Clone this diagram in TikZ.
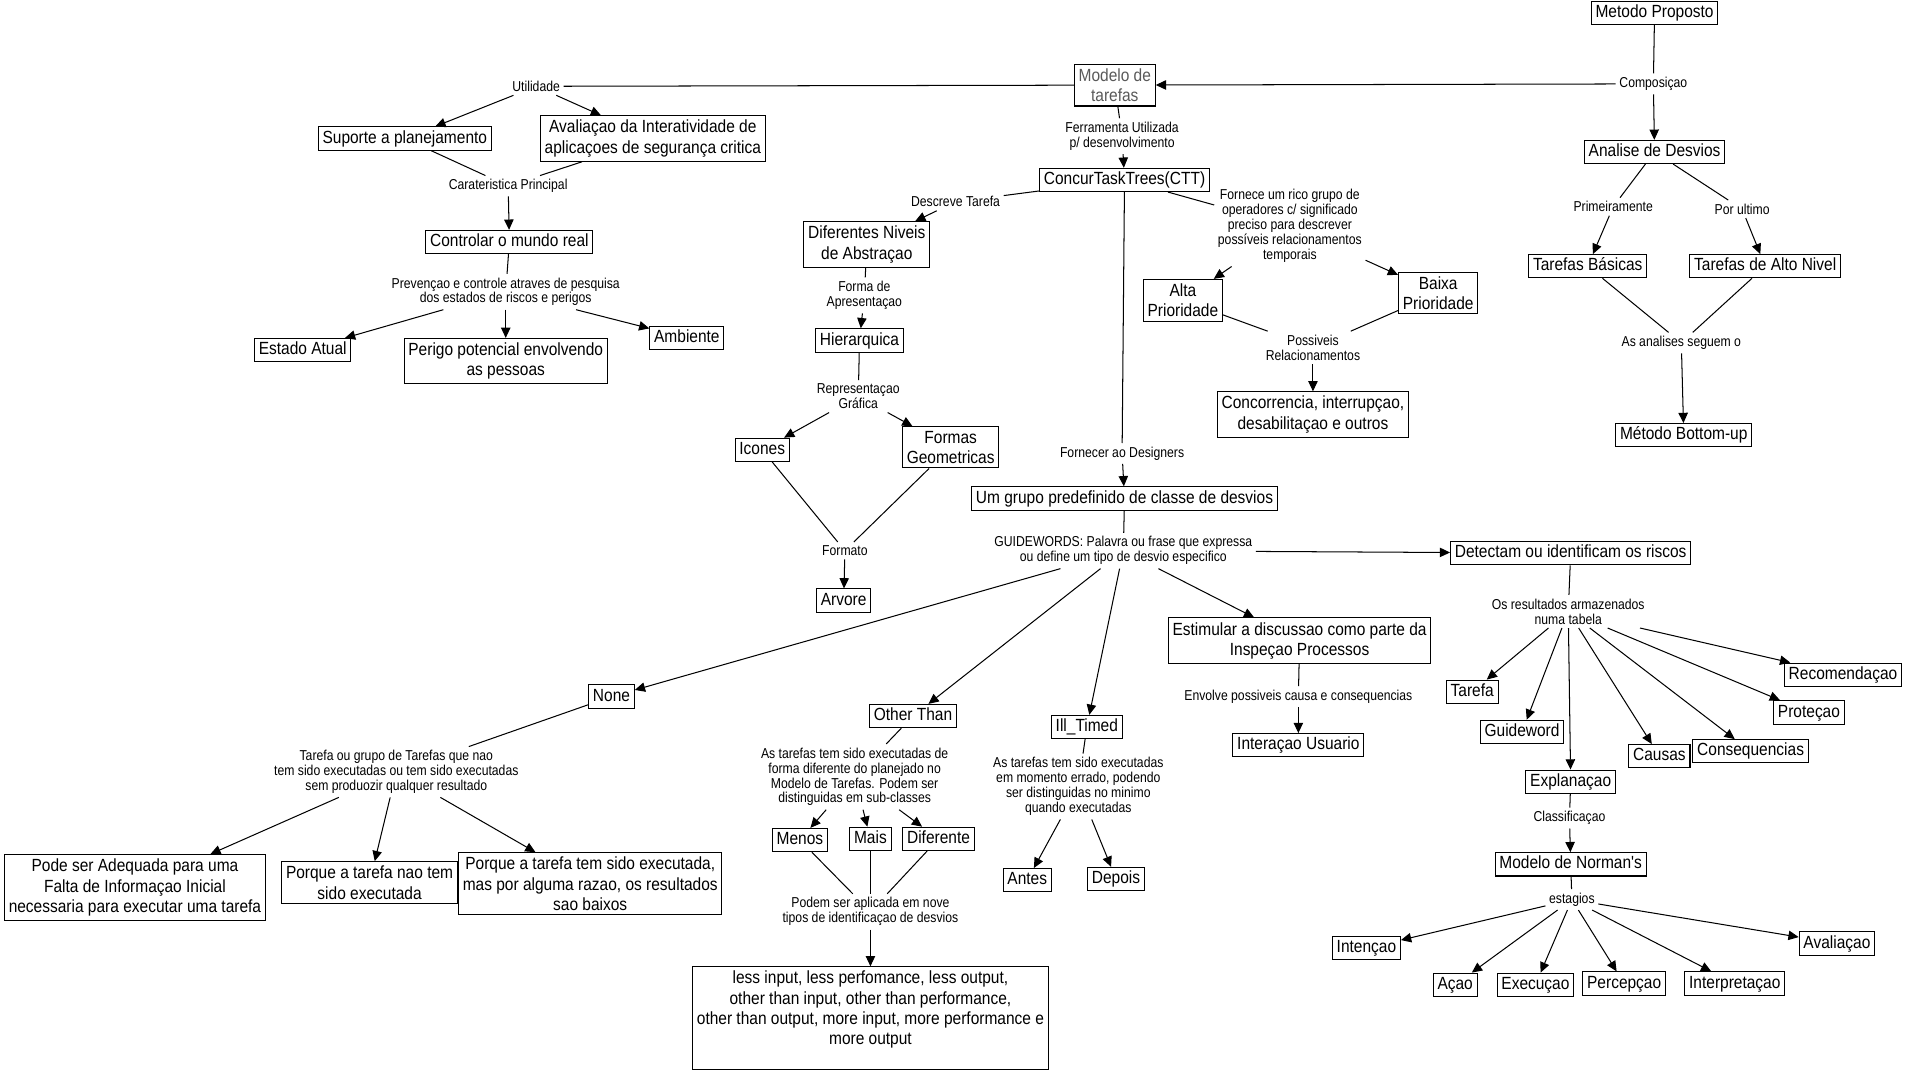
\documentclass[tikz,border=0pt]{standalone}
\usepackage{fontspec}
\setmainfont{Liberation Sans}[FakeStretch=0.85]
\newfontfamily\boxfont{Liberation Sans}[FakeStretch=0.88]
\usepackage{tikz}
\usetikzlibrary{arrows.meta}
\tikzstyle{cbox} = [draw, line width=0.6pt, inner xsep=2.5pt, inner ysep=1.7pt, text height=7.8pt, text depth=2.4pt, font=\boxfont\fontsize{10.3}{11.9}\selectfont]
\tikzstyle{cboxm} = [draw, line width=0.6pt, inner xsep=2.5pt, inner ysep=2.5pt, align=center, font=\boxfont\fontsize{10.3}{11.9}\selectfont]
\tikzstyle{lbl} = [inner sep=2pt, align=center, font=\fontsize{8.4}{8.75}\selectfont]
\tikzstyle{link} = [line width=0.6pt]
\tikzstyle{arrow} = [line width=0.6pt,->,>={Triangle[length=6pt,width=5.5pt]}]

\begin{document}
\begin{tikzpicture}[x=0.025cm, y=-0.025cm]
    \useasboundingbox (0,0) rectangle (1567,880);

    % Metodo proposto
    \node[cbox] (mp) at (1361,10.5) {Metodo Proposto};
    \node[lbl] (comp) at (1360,69) {Composiçao};
    \node[cbox] (ad) at (1361,125) {Analise de Desvios};
    \node[lbl] (prim) at (1327,170) {Primeiramente};
    \node[lbl] (porult) at (1433,172) {Por ultimo};
    \node[cbox] (tb) at (1306,219) {Tarefas Básicas};
    \node[cbox] (tan) at (1452,219) {Tarefas de Alto Nivel};
    \node[lbl] (asan) at (1383,282) {As analises seguem o};
    \node[cbox] (bu) at (1385,358) {Método Bottom-up};

    % Modelo de tarefas
    \node[cboxm, text=black!65] (mt) at (917,70) {Modelo de\\tarefas};
    \node[lbl] (util) at (441,71) {Utilidade};
    \node[cbox] (sup) at (333,114) {Suporte a planejamento};
    \node[cboxm] (aval) at (537,114) {Avaliaçao da Interatividade de\\aplicaçoes de segurança critica};
    \node[lbl] (car) at (418,153) {Carateristica Principal};
    \node[cbox] (ctrl) at (419,199) {Controlar o mundo real};
    \node[lbl] (prev) at (416,240) {Prevençao e controle atraves de pesquisa\\dos estados de riscos e perigos};
    \node[cbox] (est) at (249,288) {Estado Atual};
    \node[cboxm] (per) at (416,297) {Perigo potencial envolvendo\\as pessoas};
    \node[cbox] (amb) at (565,278) {Ambiente};

    % ConcurTaskTrees
    \node[lbl] (ferr) at (923,112) {Ferramenta Utilizada\\p/ desenvolvimento};
    \node[cbox] (ctt) at (925,148) {ConcurTaskTrees(CTT)};
    \node[lbl] (desc) at (786,166) {Descreve Tarefa};
    \node[cboxm] (niv) at (713,201) {Diferentes Niveis\\de Abstraçao};
    \node[lbl] (forma) at (711,243) {Forma de\\Apresentaçao};
    \node[cbox] (hier) at (707,280) {Hierarquica};
    \node[lbl] (repr) at (706,326) {Representaçao\\Gráfica};
    \node[cbox] (ico) at (627,370) {Icones};
    \node[cboxm] (geo) at (782,368) {Formas\\Geometricas};
    \node[lbl] (fmt) at (695,453) {Formato};
    \node[cbox] (arv) at (694,494) {Arvore};

    \node[lbl] (forn) at (1061,186) {Fornece um rico grupo de\\operadores c/ significado\\preciso para descrever\\possíveis relacionamentos\\temporais};
    \node[cboxm] (alta) at (973,247) {Alta\\Prioridade};
    \node[cboxm] (baixa) at (1183,241) {Baixa\\Prioridade};
    \node[lbl] (poss) at (1080,286) {Possiveis\\Relacionamentos};
    \node[cboxm] (conc) at (1080,341) {Concorrencia, interrupçao,\\desabilitaçao e outros};

    % Desvios
    \node[lbl] (fdes) at (923,373) {Fornecer ao Designers};
    \node[cbox] (grupo) at (925,410) {Um grupo predefinido de classe de desvios};
    \node[lbl] (guide) at (924,453) {GUIDEWORDS: Palavra ou frase que expressa\\ou define um tipo de desvio especifico};
    \node[cbox] (det) at (1292,455) {Detectam ou identificam os riscos};
    \node[cboxm] (estim) at (1069,527) {Estimular a discussao como parte da\\Inspeçao Processos};
    \node[lbl] (envol) at (1068,573) {Envolve possiveis causa e consequencias};
    \node[cbox] (inter) at (1068,613) {Interaçao Usuario};

    % None
    \node[cbox] (none) at (503,573) {None};
    \node[lbl] (nlab) at (326,635) {Tarefa ou grupo de Tarefas que nao\\tem sido executadas ou tem sido executadas\\sem produozir qualquer resultado};
    \node[cboxm] (pode) at (111,730) {Pode ser Adequada para uma\\Falta de Informaçao Inicial\\necessaria para executar uma tarefa};
    \node[cboxm] (nexec) at (304,726) {Porque a tarefa nao tem\\sido executada};
    \node[cboxm, fill=white] (baixos) at (485.5,727) {Porque a tarefa tem sido executada,\\mas por alguma razao, os resultados\\sao baixos};

    % Other Than
    \node[cbox] (other) at (751,589) {Other Than};
    \node[lbl] (olab) at (703,639) {As tarefas tem sido executadas de\\forma diferente do planejado no\\Modelo de Tarefas. Podem ser\\distinguidas em sub-classes};
    \node[cbox] (menos) at (658,691) {Menos};
    \node[cbox] (mais) at (716,690) {Mais};
    \node[cbox] (difer) at (772,690) {Diferente};
    \node[lbl] (plab) at (716,750) {Podem ser aplicada em nove\\tipos de identificaçao de desvios};
    \node[cboxm] (less) at (716,837.5) {less input, less perfomance, less output,\\other than input, other than performance,\\other than output, more input, more performance e\\more output\\ \mbox{}};

    % Ill_Timed
    \node[cbox] (ill) at (894,598) {Ill\_Timed};
    \node[lbl] (ilab) at (887,647) {As tarefas tem sido executadas\\em momento errado, podendo\\ser distinguidas no minimo\\quando executadas};
    \node[cbox] (antes) at (845,724) {Antes};
    \node[cbox] (depois) at (918,723) {Depois};

    % Resultados
    \node[lbl] (rlab) at (1290,503) {Os resultados armazenados\\numa tabela};
    \node[cbox] (tarefa) at (1211,569) {Tarefa};
    \node[cbox] (gw) at (1252,602) {Guideword};
    \node[cbox] (expl) at (1292,643) {Explanaçao};
    \node[cbox] (causas) at (1365,622) {Causas};
    \node[cbox] (conseq) at (1440,618) {Consequencias};
    \node[cbox] (prot) at (1488,586) {Proteçao};
    \node[cbox] (recom) at (1516,555) {Recomendaçao};
    \node[lbl] (clas) at (1291,673) {Classificaçao};
    \node[cbox] (norman) at (1292,711) {Modelo de Norman's};
    \node[lbl] (estag) at (1293,740) {estagios};
    \node[cbox] (intenc) at (1124,780) {Intençao};
    \node[cbox] (acao) at (1197,810) {Açao};
    \node[cbox] (exec) at (1263,810) {Execuçao};
    \node[cbox] (perc) at (1336,809) {Percepçao};
    \node[cbox] (interp) at (1427,809) {Interpretaçao};
    \node[cbox] (avali) at (1511,776) {Avaliaçao};

    % Connectors
    \draw[link] (mp) -- (comp);
    \draw[arrow] (comp) -- (ad);
    \draw[arrow] (comp) -- (mt);
    \draw[link] (ad) -- (prim);
    \draw[arrow] (prim) -- (tb);
    \draw[link] (ad) -- (porult);
    \draw[arrow] (porult) -- (tan);
    \draw[link] (tb) -- (asan);
    \draw[link] (tan) -- (asan);
    \draw[arrow] (asan) -- (bu);

    \draw[link] (mt) -- (util);
    \draw[arrow] (util) -- (sup);
    \draw[arrow] (util) -- (aval);
    \draw[link] (sup) -- (car);
    \draw[link] (aval) -- (car);
    \draw[arrow] (car) -- (ctrl);
    \draw[link] (ctrl) -- (prev);
    \foreach \n in {est,per,amb}
        \draw[arrow] (prev) -- (\n);

    \draw[link] (mt) -- (ferr);
    \draw[arrow] (ferr) -- (ctt);
    \draw[link] (ctt) -- (desc);
    \draw[arrow] (desc) -- (niv);
    \draw[link] (niv) -- (forma);
    \draw[arrow] (forma) -- (hier);
    \draw[link] (hier) -- (repr);
    \draw[arrow] (repr) -- (ico);
    \draw[arrow] (repr) -- (geo);
    \draw[link] (ico) -- (fmt);
    \draw[link] (geo) -- (fmt);
    \draw[arrow] (fmt) -- (arv);

    \draw[link] (ctt) -- (forn);
    \draw[arrow] (forn) -- (alta);
    \draw[arrow] (forn) -- (baixa);
    \draw[link] (alta) -- (poss);
    \draw[link] (baixa) -- (poss);
    \draw[arrow] (poss) -- (conc);

    \draw[link] (ctt) -- (fdes);
    \draw[arrow] (fdes) -- (grupo);
    \draw[link] (grupo) -- (guide);
    \foreach \n in {det,none,other,ill,estim}
        \draw[arrow] (guide) -- (\n);
    \draw[link] (estim) -- (envol);
    \draw[arrow] (envol) -- (inter);

    \draw[link] (none) -- (nlab);
    \foreach \n in {pode,nexec,baixos}
        \draw[arrow] (nlab) -- (\n);

    \draw[link] (other) -- (olab);
    \foreach \n in {menos,mais,difer} {
        \draw[arrow] (olab) -- (\n);
        \draw[link] (\n) -- (plab);
    }
    \draw[arrow] (plab) -- (less);

    \draw[link] (ill) -- (ilab);
    \draw[arrow] (ilab) -- (antes);
    \draw[arrow] (ilab) -- (depois);

    \draw[link] (det) -- (rlab);
    \foreach \n in {tarefa,gw,expl,causas,conseq,prot,recom}
        \draw[arrow] (rlab) -- (\n);
    \draw[link] (expl) -- (clas);
    \draw[arrow] (clas) -- (norman);
    \draw[link] (norman) -- (estag);
    \foreach \n in {intenc,acao,exec,perc,interp,avali}
        \draw[arrow] (estag) -- (\n);
\end{tikzpicture}
\end{document}
